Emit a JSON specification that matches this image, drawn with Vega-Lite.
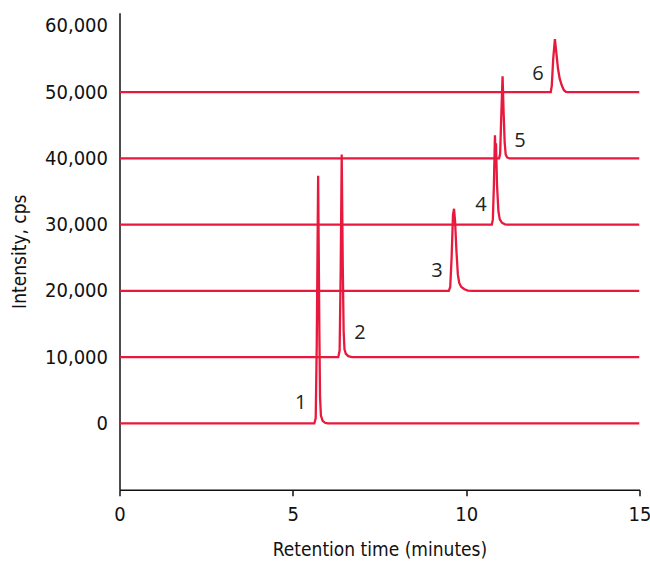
{
  "$schema": "https://vega.github.io/schema/vega-lite/v6.json",
  "width": 520,
  "height": 477,
  "autosize": {"type": "none"},
  "padding": {"left": 119.5, "top": 12.7, "right": 10.5, "bottom": 74.3},
  "background": "white",
  "config": {
    "view": {"stroke": null},
    "font": "DejaVu Sans Condensed, Roboto, sans-serif",
    "axis": {"grid": false, "domainColor": "#111", "tickColor": "#111", "labelColor": "#111", "titleColor": "#111", "labelFont": "DejaVu Sans Condensed, Roboto, sans-serif", "titleFont": "DejaVu Sans Condensed, Roboto, sans-serif", "titleFontWeight": "normal", "labelFontSize": 20, "titleFontSize": 19, "domainWidth": 1.5, "tickWidth": 1.5}
  },
  "datasets": {
    "traces": [
      {"series": 0, "t": 0, "v": 0}, {"series": 0, "t": 5.62, "v": 0}, {"series": 0, "t": 5.66, "v": 800}, {"series": 0, "t": 5.69, "v": 12000}, {"series": 0, "t": 5.73, "v": 37400}, {"series": 0, "t": 5.765, "v": 14000}, {"series": 0, "t": 5.785, "v": 4000}, {"series": 0, "t": 5.81, "v": 1200}, {"series": 0, "t": 5.86, "v": 400}, {"series": 0, "t": 5.93, "v": 100}, {"series": 0, "t": 6.0, "v": 0}, {"series": 0, "t": 15, "v": 0},
      {"series": 1, "t": 0, "v": 10000}, {"series": 1, "t": 6.31, "v": 10000}, {"series": 1, "t": 6.35, "v": 11000}, {"series": 1, "t": 6.38, "v": 23000}, {"series": 1, "t": 6.41, "v": 40600}, {"series": 1, "t": 6.44, "v": 24000}, {"series": 1, "t": 6.465, "v": 14000}, {"series": 1, "t": 6.49, "v": 11200}, {"series": 1, "t": 6.53, "v": 10500}, {"series": 1, "t": 6.6, "v": 10150}, {"series": 1, "t": 6.7, "v": 10000}, {"series": 1, "t": 15, "v": 10000},
      {"series": 2, "t": 0, "v": 20000}, {"series": 2, "t": 9.5, "v": 20000}, {"series": 2, "t": 9.54, "v": 20600}, {"series": 2, "t": 9.58, "v": 25000}, {"series": 2, "t": 9.62, "v": 31500}, {"series": 2, "t": 9.65, "v": 32400}, {"series": 2, "t": 9.68, "v": 30500}, {"series": 2, "t": 9.72, "v": 26000}, {"series": 2, "t": 9.76, "v": 22500}, {"series": 2, "t": 9.8, "v": 21200}, {"series": 2, "t": 9.86, "v": 20600}, {"series": 2, "t": 9.95, "v": 20250}, {"series": 2, "t": 10.05, "v": 20050}, {"series": 2, "t": 10.2, "v": 20000}, {"series": 2, "t": 15, "v": 20000},
      {"series": 3, "t": 0, "v": 30000}, {"series": 3, "t": 10.74, "v": 30000}, {"series": 3, "t": 10.77, "v": 30800}, {"series": 3, "t": 10.8, "v": 36000}, {"series": 3, "t": 10.83, "v": 43500}, {"series": 3, "t": 10.845, "v": 41000}, {"series": 3, "t": 10.86, "v": 42300}, {"series": 3, "t": 10.89, "v": 36000}, {"series": 3, "t": 10.93, "v": 32000}, {"series": 3, "t": 10.97, "v": 30800}, {"series": 3, "t": 11.03, "v": 30300}, {"series": 3, "t": 11.12, "v": 30050}, {"series": 3, "t": 11.2, "v": 30000}, {"series": 3, "t": 15, "v": 30000},
      {"series": 4, "t": 0, "v": 40000}, {"series": 4, "t": 10.95, "v": 40000}, {"series": 4, "t": 10.98, "v": 40700}, {"series": 4, "t": 11.01, "v": 46000}, {"series": 4, "t": 11.05, "v": 52400}, {"series": 4, "t": 11.08, "v": 47000}, {"series": 4, "t": 11.11, "v": 42500}, {"series": 4, "t": 11.14, "v": 40600}, {"series": 4, "t": 11.18, "v": 40150}, {"series": 4, "t": 11.25, "v": 40000}, {"series": 4, "t": 15, "v": 40000},
      {"series": 5, "t": 0, "v": 50000}, {"series": 5, "t": 12.44, "v": 50000}, {"series": 5, "t": 12.47, "v": 51000}, {"series": 5, "t": 12.51, "v": 55000}, {"series": 5, "t": 12.56, "v": 58000}, {"series": 5, "t": 12.6, "v": 56000}, {"series": 5, "t": 12.65, "v": 53500}, {"series": 5, "t": 12.7, "v": 52000}, {"series": 5, "t": 12.76, "v": 51000}, {"series": 5, "t": 12.82, "v": 50300}, {"series": 5, "t": 12.88, "v": 50050}, {"series": 5, "t": 12.95, "v": 50000}, {"series": 5, "t": 15, "v": 50000}
    ],
    "labels": [
      {"label": "1", "t": 5.23, "v": 3070},
      {"label": "2", "t": 6.94, "v": 13640},
      {"label": "3", "t": 9.16, "v": 22990},
      {"label": "4", "t": 10.43, "v": 32960},
      {"label": "5", "t": 11.55, "v": 42640},
      {"label": "6", "t": 12.07, "v": 52760}
    ]
  },
  "layer": [
    {
      "data": {"name": "traces"},
      "mark": {"type": "line", "color": "#e8193c", "strokeWidth": 2.3, "clip": true},
      "encoding": {
        "x": {"field": "t", "type": "quantitative", "scale": {"domain": [0, 15], "nice": false}, "axis": {"values": [0, 5, 10, 15], "tickSize": 6, "labelFlush": false, "labelPadding": 9, "title": "Retention time (minutes)", "titlePadding": 16}},
        "y": {"field": "v", "type": "quantitative", "scale": {"domain": [-10000, 62000], "nice": false, "zero": false}, "axis": {"values": [0, 10000, 20000, 30000, 40000, 50000, 60000], "format": ",d", "ticks": false, "labelPadding": 12, "title": "Intensity, cps", "titlePadding": 15}},
        "detail": {"field": "series", "type": "nominal"}
      }
    },
    {
      "data": {"name": "labels"},
      "mark": {"type": "text", "font": "Open Sans", "fontSize": 20, "color": "#222", "align": "center", "baseline": "middle"},
      "encoding": {
        "x": {"field": "t", "type": "quantitative"},
        "y": {"field": "v", "type": "quantitative"},
        "text": {"field": "label"}
      }
    }
  ]
}
